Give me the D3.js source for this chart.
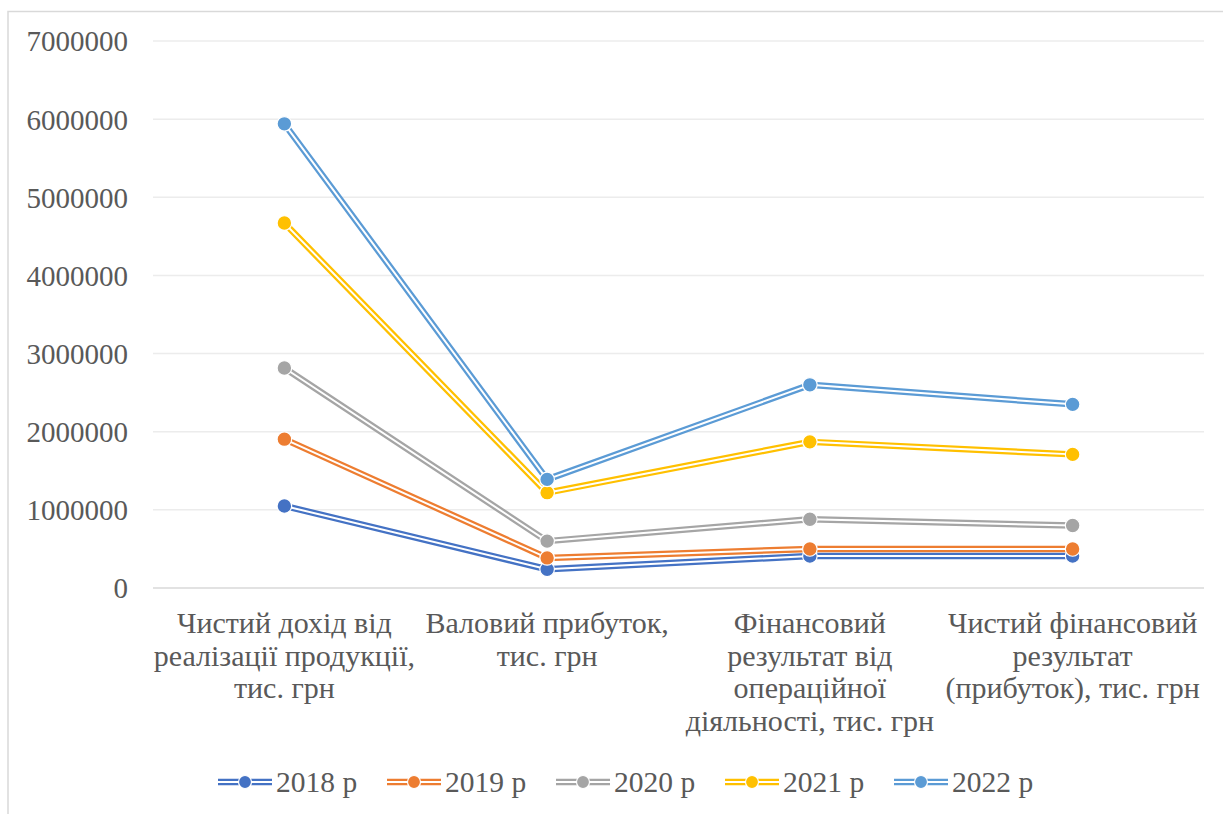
<!DOCTYPE html>
<html>
<head>
<meta charset="utf-8">
<script src="https://cdn.jsdelivr.net/npm/d3@7"></script>
</head>
<body style="margin:0;padding:0;background:#ffffff">
<svg id="chart" width="1223" height="814" style="display:block"></svg>
<script>
// Category labels, already split into lines
const categories = [
  ["Чистий дохід від", "реалізації продукції,", "тис. грн"],
  ["Валовий прибуток,", "тис. грн"],
  ["Фінансовий", "результат від", "операційної", "діяльності, тис. грн"],
  ["Чистий фінансовий", "результат", "(прибуток), тис. грн"]
];

const seriesNames = ["2018 р", "2019 р", "2020 р", "2021 р", "2022 р"];

const values2018 = [1050000, 240000, 410000, 410000];
const values2019 = [1905000, 385000, 500000, 500000];
const values2020 = [2815000, 600000, 880000, 800000];
const values2021 = [4670000, 1220000, 1870000, 1710000];
const values2022 = [5940000, 1390000, 2600000, 2350000];

const yTicks = [0, 1000000, 2000000, 3000000, 4000000, 5000000, 6000000, 7000000];

const colors = ["#4472C4", "#ED7D31", "#A5A5A5", "#FFC000", "#5B9BD5"];

const seriesValues = [values2018, values2019, values2020, values2021, values2022];
const series = seriesNames.map((name, i) => ({ name, values: seriesValues[i], color: colors[i] }));

const svg = d3.select("#chart");

const plot = { left: 153, right: 1204, top: 41, bottom: 588 };

const x = d3.scaleBand()
  .domain(d3.range(categories.length))
  .range([plot.left, plot.right]);

const y = d3.scaleLinear()
  .domain([0, 7000000])
  .range([plot.bottom, plot.top]);

// Y axis tick labels
const yAxisG = svg.append("g")
  .attr("transform", "translate(128,0)")
  .call(d3.axisLeft(y).tickValues(yTicks).tickFormat(d3.format("d")).tickSize(0).tickPadding(0))
  .attr("font-family", "Liberation Serif")
  .attr("font-size", 29);
yAxisG.select(".domain").remove();
yAxisG.selectAll("text").attr("fill", "#595959").attr("dy", "0.34em");

// Chart area frame
svg.append("path")
  .attr("d", "M8,814 L8,11.5 L1223,11.5")
  .attr("fill", "none")
  .attr("stroke", "#d9d9d9")
  .attr("stroke-width", 1.5);

// Horizontal gridlines
svg.append("g")
  .selectAll("line")
  .data(yTicks.filter(d => d > 0))
  .join("line")
  .attr("x1", plot.left)
  .attr("x2", plot.right)
  .attr("y1", d => y(d))
  .attr("y2", d => y(d))
  .attr("stroke", "#ececec")
  .attr("stroke-width", 1.5);

// Category axis baseline
svg.append("line")
  .attr("x1", plot.left)
  .attr("x2", plot.right)
  .attr("y1", y(0))
  .attr("y2", y(0))
  .attr("stroke", "#d9d9d9")
  .attr("stroke-width", 1.5);

// Category labels
categories.forEach((lines, i) => {
  const cx = x(i) + x.bandwidth() / 2;
  const t = svg.append("text")
    .attr("x", cx)
    .attr("y", 633)
    .attr("text-anchor", "middle")
    .attr("fill", "#595959")
    .attr("font-size", 30)
    .style("font-family", '"Liberation Serif"');
  lines.forEach((ln, j) => {
    t.append("tspan")
      .attr("x", cx)
      .attr("y", 633 + j * 32.5)
      .text(ln);
  });
});

const line = d3.line()
  .x((d, i) => x(i) + x.bandwidth() / 2)
  .y(d => y(d));

// Double-stroke lines: a wide coloured stroke with a thin white core
series.forEach(s => {
  svg.append("path")
    .datum(s.values)
    .attr("d", line)
    .attr("fill", "none")
    .attr("stroke", s.color)
    .attr("stroke-width", 6.5)
    .attr("stroke-linejoin", "round");
  svg.append("path")
    .datum(s.values)
    .attr("d", line)
    .attr("fill", "none")
    .attr("stroke", "#ffffff")
    .attr("stroke-width", 2)
    .attr("stroke-linejoin", "round");
});

// Markers
series.forEach(s => {
  svg.append("g").selectAll("circle")
    .data(s.values)
    .join("circle")
    .attr("cx", (d, i) => x(i) + x.bandwidth() / 2)
    .attr("cy", d => y(d))
    .attr("r", 7.3)
    .attr("fill", s.color)
    .attr("stroke", "#ffffff")
    .attr("stroke-width", 1.2);
});

// Legend
const legendX0 = 218;
const legendStep = 169;
const legendY = 782;
series.forEach((s, i) => {
  const lx = legendX0 + i * legendStep;
  svg.append("line")
    .attr("x1", lx).attr("x2", lx + 54).attr("y1", legendY).attr("y2", legendY)
    .attr("stroke", s.color).attr("stroke-width", 6.5);
  svg.append("line")
    .attr("x1", lx).attr("x2", lx + 54).attr("y1", legendY).attr("y2", legendY)
    .attr("stroke", "#ffffff").attr("stroke-width", 2);
  svg.append("circle")
    .attr("cx", lx + 27).attr("cy", legendY).attr("r", 6.5)
    .attr("fill", s.color)
    .attr("stroke", "#ffffff")
    .attr("stroke-width", 1.2);
  svg.append("text")
    .attr("x", lx + 58)
    .attr("y", legendY)
    .attr("dy", "0.34em")
    .attr("fill", "#595959")
    .attr("font-size", 29.5)
    .style("font-family", '"Liberation Serif"')
    .text(s.name);
});
</script>
</body>
</html>
